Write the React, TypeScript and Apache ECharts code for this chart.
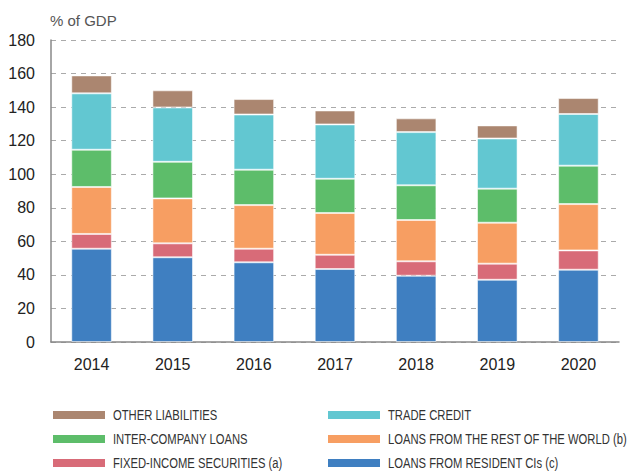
import React, { useEffect, useRef } from "react";
import * as echarts from "echarts";

const years = ["2014", "2015", "2016", "2017", "2018", "2019", "2020"];
const residentCIs = [55.6, 50.5, 47.5, 43.5, 39.5, 37.1, 43.1];
const fixedIncome = [8.8, 8.3, 8.1, 8.5, 8.6, 9.6, 11.5];
const restOfWorld = [28.0, 26.8, 26.0, 24.9, 24.6, 24.4, 27.6];
const interCompany = [22.2, 21.8, 21.1, 20.4, 20.7, 20.3, 22.9];
const tradeCredit = [33.6, 32.4, 32.9, 32.4, 31.7, 29.9, 30.8];
const otherLiab = [10.7, 10.2, 9.2, 8.3, 8.2, 7.8, 9.5];

const names = {
  blue: "LOANS FROM RESIDENT CIs (c)",
  red: "FIXED-INCOME SECURITIES (a)",
  orange: "LOANS FROM THE REST OF THE WORLD (b)",
  green: "INTER-COMPANY LOANS",
  teal: "TRADE CREDIT",
  brown: "OTHER LIABILITIES",
};
const colors = {
  blue: "#3F7FC1",
  red: "#D86B78",
  orange: "#F79E62",
  green: "#5DBD6A",
  teal: "#62C7D1",
  brown: "#AB8670",
};

const legendLayout: [keyof typeof names, number, number][] = [
  ["brown", 0, 0],
  ["green", 0, 1],
  ["red", 0, 2],
  ["teal", 1, 0],
  ["orange", 1, 1],
  ["blue", 1, 2],
];

export default function App() {
  const ref = useRef<HTMLDivElement>(null);
  useEffect(() => {
    if (!ref.current) return;
    const chart = echarts.init(ref.current, null, { renderer: "svg" });
    const mk = (key: keyof typeof names, data: number[]) => ({
      name: names[key],
      type: "bar",
      stack: "total",
      data,
      barWidth: "50%",
      itemStyle: { color: colors[key], borderColor: "rgba(255,255,255,0.55)", borderWidth: 1 },
    });
    const colX = [53, 328];
    const rowY = [415, 439, 463];
    const legendGraphics: any[] = [];
    legendLayout.forEach(([key, c, r]) => {
      legendGraphics.push({
        type: "rect",
        shape: { x: colX[c], y: rowY[r] - 4, width: 52, height: 8 },
        style: { fill: colors[key] },
      });
      legendGraphics.push({
        type: "text",
        x: colX[c] + 60,
        y: rowY[r],
        scaleX: 0.75,
        style: {
          text: names[key],
          fontFamily: "'Liberation Sans', Arial, sans-serif",
          fontSize: 15,
          fill: "#333",
          verticalAlign: "middle",
          align: "left",
        },
      });
    });
    chart.setOption({
      animation: false,
      grid: { left: 51, right: 20, top: 40, bottom: 129 },
      graphic: [
        {
          type: "text",
          left: 50,
          top: 13,
          style: {
            text: "% of GDP",
            fontFamily: "'Liberation Sans', Arial, sans-serif",
            fontSize: 15,
            fill: "#555",
          },
        },
        ...legendGraphics,
      ],
      xAxis: {
        type: "category",
        data: years,
        axisLine: { lineStyle: { color: "#888", width: 1.5 } },
        axisTick: { inside: true, length: 6, lineStyle: { color: "#888" } },
        axisLabel: {
          fontFamily: "'Liberation Sans', Arial, sans-serif",
          fontSize: 16,
          color: "#222",
          margin: 14,
        },
      },
      yAxis: {
        type: "value",
        min: 0,
        max: 180,
        interval: 20,
        axisLine: { show: true, lineStyle: { color: "#888", width: 1.5 } },
        axisTick: { show: false },
        axisLabel: {
          fontFamily: "'Liberation Sans', Arial, sans-serif",
          fontSize: 16,
          color: "#222",
          margin: 16,
        },
        splitLine: { lineStyle: { color: "#aaa", type: [5, 5] } },
      },
      series: [
        mk("blue", residentCIs),
        mk("red", fixedIncome),
        mk("orange", restOfWorld),
        mk("green", interCompany),
        mk("teal", tradeCredit),
        mk("brown", otherLiab),
      ],
    });
    return () => chart.dispose();
  }, []);
  return <div ref={ref} style={{ width: 639, height: 471, position: "absolute", left: 0, top: 0 }} />;
}
